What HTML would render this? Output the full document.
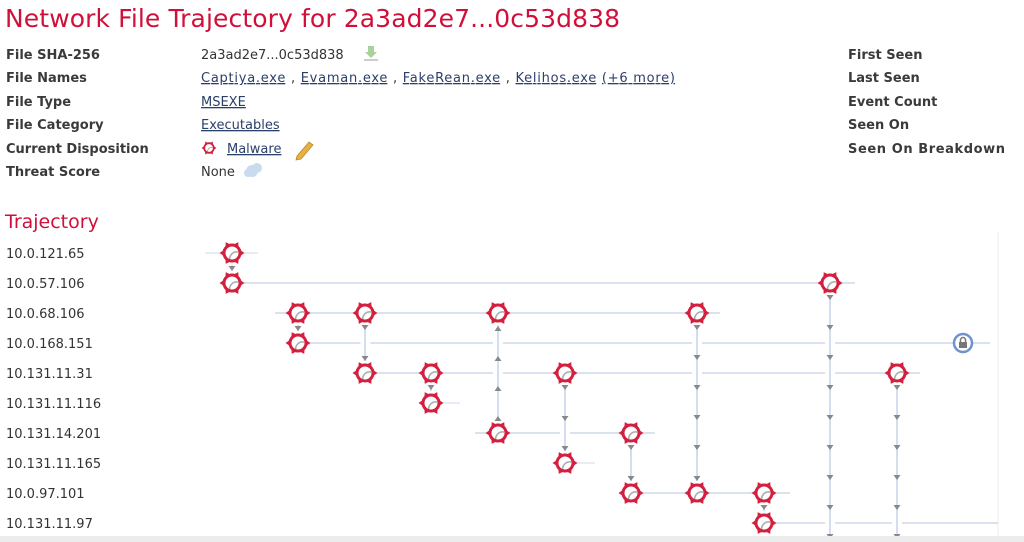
<!DOCTYPE html>
<html><head><meta charset="utf-8"><style>
html,body{margin:0;padding:0;background:#fff;width:1024px;height:542px;overflow:hidden}
svg{display:block}
.t{font-family:"DejaVu Sans","Liberation Sans",sans-serif;font-size:13px;fill:#333}
.b{font-weight:bold;fill:#3a3a3a}
.l{fill:#2b3f6b;text-decoration:underline}
</style></head><body>
<svg width="1024" height="542" viewBox="0 0 1024 542" xmlns="http://www.w3.org/2000/svg">
<defs>
<g id="n">
<circle r="12" fill="#fff" opacity="0.9"/>
<path d="M-2 8 A7 7 0 0 1 6 -1" fill="none" stroke="#aaa" stroke-width="1.5"/>
<circle r="8" fill="none" stroke="#d41f3f" stroke-width="3"/>
<g fill="#d41f3f">
<polygon points="8,-3 12.5,0 8,3"/>
<polygon points="8,-3 12.5,0 8,3" transform="rotate(60)"/>
<polygon points="8,-3 12.5,0 8,3" transform="rotate(120)"/>
<polygon points="8,-3 12.5,0 8,3" transform="rotate(180)"/>
<polygon points="8,-3 12.5,0 8,3" transform="rotate(240)"/>
<polygon points="8,-3 12.5,0 8,3" transform="rotate(300)"/>
</g>
</g>
<polygon id="ad" points="-3.5,-2 3.5,-2 0,3" fill="#888"/>
<polygon id="au" points="-3.5,2 3.5,2 0,-3" fill="#888"/>
</defs>

<text x="5" y="27" font-family="DejaVu Sans,Liberation Sans,sans-serif" font-size="25" fill="#d0103a" textLength="615">Network File Trajectory for 2a3ad2e7...0c53d838</text>

<g class="t b">
<text x="6" y="59">File SHA-256</text>
<text x="6" y="82">File Names</text>
<text x="6" y="106">File Type</text>
<text x="6" y="129">File Category</text>
<text x="6" y="153">Current Disposition</text>
<text x="6" y="176">Threat Score</text>
<text x="848" y="59">First Seen</text>
<text x="848" y="82">Last Seen</text>
<text x="848" y="106">Event Count</text>
<text x="848" y="129">Seen On</text>
<text x="848" y="153" textLength="157">Seen On Breakdown</text>
</g>
<g class="t">
<text x="201" y="59">2a3ad2e7...0c53d838</text>
<text x="201" y="82" textLength="474"><tspan class="l">Captiya.exe</tspan> , <tspan class="l">Evaman.exe</tspan> , <tspan class="l">FakeRean.exe</tspan> , <tspan class="l">Kelihos.exe</tspan>  <tspan class="l">(+6 more)</tspan></text>
<text x="201" y="106" class="l">MSEXE</text>
<text x="201" y="129" class="l">Executables</text>
<text x="227" y="153" class="l">Malware</text>
<text x="201" y="176">None</text>
</g>
<path d="M368 46 h6 v6 h3 l-6 6 l-6 -6 h3z" fill="#a9d19a"/><rect x="364" y="59" width="14" height="2" fill="#ccc"/>
<g transform="translate(209,148) scale(0.6)"><use href="#n"/></g>
<path d="M297 156 l12 -14 l4 3 l-12 14 l-5 1z" fill="#e8b040" stroke="#b88a2a" stroke-width="0.8"/>
<circle cx="252" cy="171" r="6" fill="#c9dbee"/><circle cx="257" cy="168" r="5" fill="#c9dbee"/><circle cx="248" cy="173" r="4" fill="#c9dbee"/>

<text x="5" y="228" font-family="DejaVu Sans,Liberation Sans,sans-serif" font-size="19" fill="#d0103a">Trajectory</text>
<g class="t" font-size="13">
<text x="6" y="258">10.0.121.65</text>
<text x="6" y="288">10.0.57.106</text>
<text x="6" y="318">10.0.68.106</text>
<text x="6" y="348">10.0.168.151</text>
<text x="6" y="378">10.131.11.31</text>
<text x="6" y="408">10.131.11.116</text>
<text x="6" y="438">10.131.14.201</text>
<text x="6" y="468">10.131.11.165</text>
<text x="6" y="498">10.0.97.101</text>
<text x="6" y="528">10.131.11.97</text>
</g>

<line x1="998" y1="232" x2="998" y2="536" stroke="#eee" stroke-width="1"/>

<g stroke="#cdd8ea" stroke-width="1.5">
<line x1="205" y1="253" x2="258" y2="253" opacity="0.6"/>
<line x1="232" y1="283" x2="855" y2="283"/>
<line x1="275" y1="313" x2="720" y2="313"/>
<line x1="298" y1="343" x2="990" y2="343"/>
<line x1="365" y1="373" x2="920" y2="373"/>
<line x1="431" y1="403" x2="460" y2="403" opacity="0.6"/>
<line x1="475" y1="433" x2="655" y2="433"/>
<line x1="565" y1="463" x2="595" y2="463" opacity="0.6"/>
<line x1="631" y1="493" x2="790" y2="493"/>
<line x1="764" y1="523" x2="998" y2="523"/>
</g>
<g stroke="#fff" stroke-width="10">
<line x1="365" y1="320" x2="366" y2="366"/>
<line x1="498" y1="320" x2="498" y2="426"/>
<line x1="565" y1="380" x2="565" y2="456"/>
<line x1="697" y1="320" x2="697" y2="486"/>
<line x1="830" y1="290" x2="830" y2="536"/>
<line x1="897" y1="380" x2="897" y2="536"/>
</g>
<g stroke="#c5d3ea" stroke-width="1.5">
<line x1="232" y1="253" x2="232" y2="283"/>
<line x1="298" y1="313" x2="298" y2="343"/>
<line x1="365" y1="313" x2="365" y2="373"/>
<line x1="431" y1="373" x2="431" y2="403"/>
<line x1="498" y1="313" x2="498" y2="433"/>
<line x1="565" y1="373" x2="565" y2="463"/>
<line x1="631" y1="433" x2="631" y2="493"/>
<line x1="697" y1="313" x2="697" y2="493"/>
<line x1="764" y1="493" x2="764" y2="523"/>
<line x1="830" y1="283" x2="830" y2="536"/>
<line x1="897" y1="373" x2="897" y2="536"/>
</g>
<use href="#ad" x="232" y="268"/>
<use href="#ad" x="298" y="328"/>
<use href="#ad" x="365" y="327"/><use href="#ad" x="365" y="358"/>
<use href="#ad" x="431" y="387"/>
<use href="#au" x="498" y="419"/><use href="#au" x="498" y="389"/><use href="#au" x="498" y="359"/><use href="#au" x="498" y="329"/>
<use href="#ad" x="565" y="387"/><use href="#ad" x="565" y="418"/><use href="#ad" x="565" y="448"/>
<use href="#ad" x="631" y="447"/><use href="#ad" x="631" y="478"/>
<use href="#ad" x="697" y="327"/><use href="#ad" x="697" y="357"/><use href="#ad" x="697" y="387"/><use href="#ad" x="697" y="417"/><use href="#ad" x="697" y="447"/><use href="#ad" x="697" y="478"/>
<use href="#ad" x="764" y="507"/>
<use href="#ad" x="830" y="297"/><use href="#ad" x="830" y="327"/><use href="#ad" x="830" y="357"/><use href="#ad" x="830" y="387"/><use href="#ad" x="830" y="417"/><use href="#ad" x="830" y="447"/><use href="#ad" x="830" y="477"/><use href="#ad" x="830" y="507"/><use href="#ad" x="830" y="536"/>
<use href="#ad" x="897" y="387"/><use href="#ad" x="897" y="417"/><use href="#ad" x="897" y="447"/><use href="#ad" x="897" y="477"/><use href="#ad" x="897" y="507"/><use href="#ad" x="897" y="536"/>
<use href="#n" x="232" y="253"/>
<use href="#n" x="232" y="283"/><use href="#n" x="830" y="283"/>
<use href="#n" x="298" y="313"/><use href="#n" x="365" y="313"/><use href="#n" x="498" y="313"/><use href="#n" x="697" y="313"/>
<use href="#n" x="298" y="343"/>
<use href="#n" x="365" y="373"/><use href="#n" x="431" y="373"/><use href="#n" x="565" y="373"/><use href="#n" x="897" y="373"/>
<use href="#n" x="431" y="403"/>
<use href="#n" x="498" y="433"/><use href="#n" x="631" y="433"/>
<use href="#n" x="565" y="463"/>
<use href="#n" x="631" y="493"/><use href="#n" x="697" y="493"/><use href="#n" x="764" y="493"/>
<use href="#n" x="764" y="523"/>
<circle cx="963" cy="343" r="9" fill="#fff" stroke="#6f93cc" stroke-width="2.5"/>
<rect x="959" y="342" width="8" height="6" fill="#777"/>
<path d="M960.5 342 v-2 a2.5 2.5 0 0 1 5 0 v2" fill="none" stroke="#777" stroke-width="1.5"/>

<rect x="0" y="536" width="1024" height="6" fill="#ececec"/>
</svg>
</body></html>
